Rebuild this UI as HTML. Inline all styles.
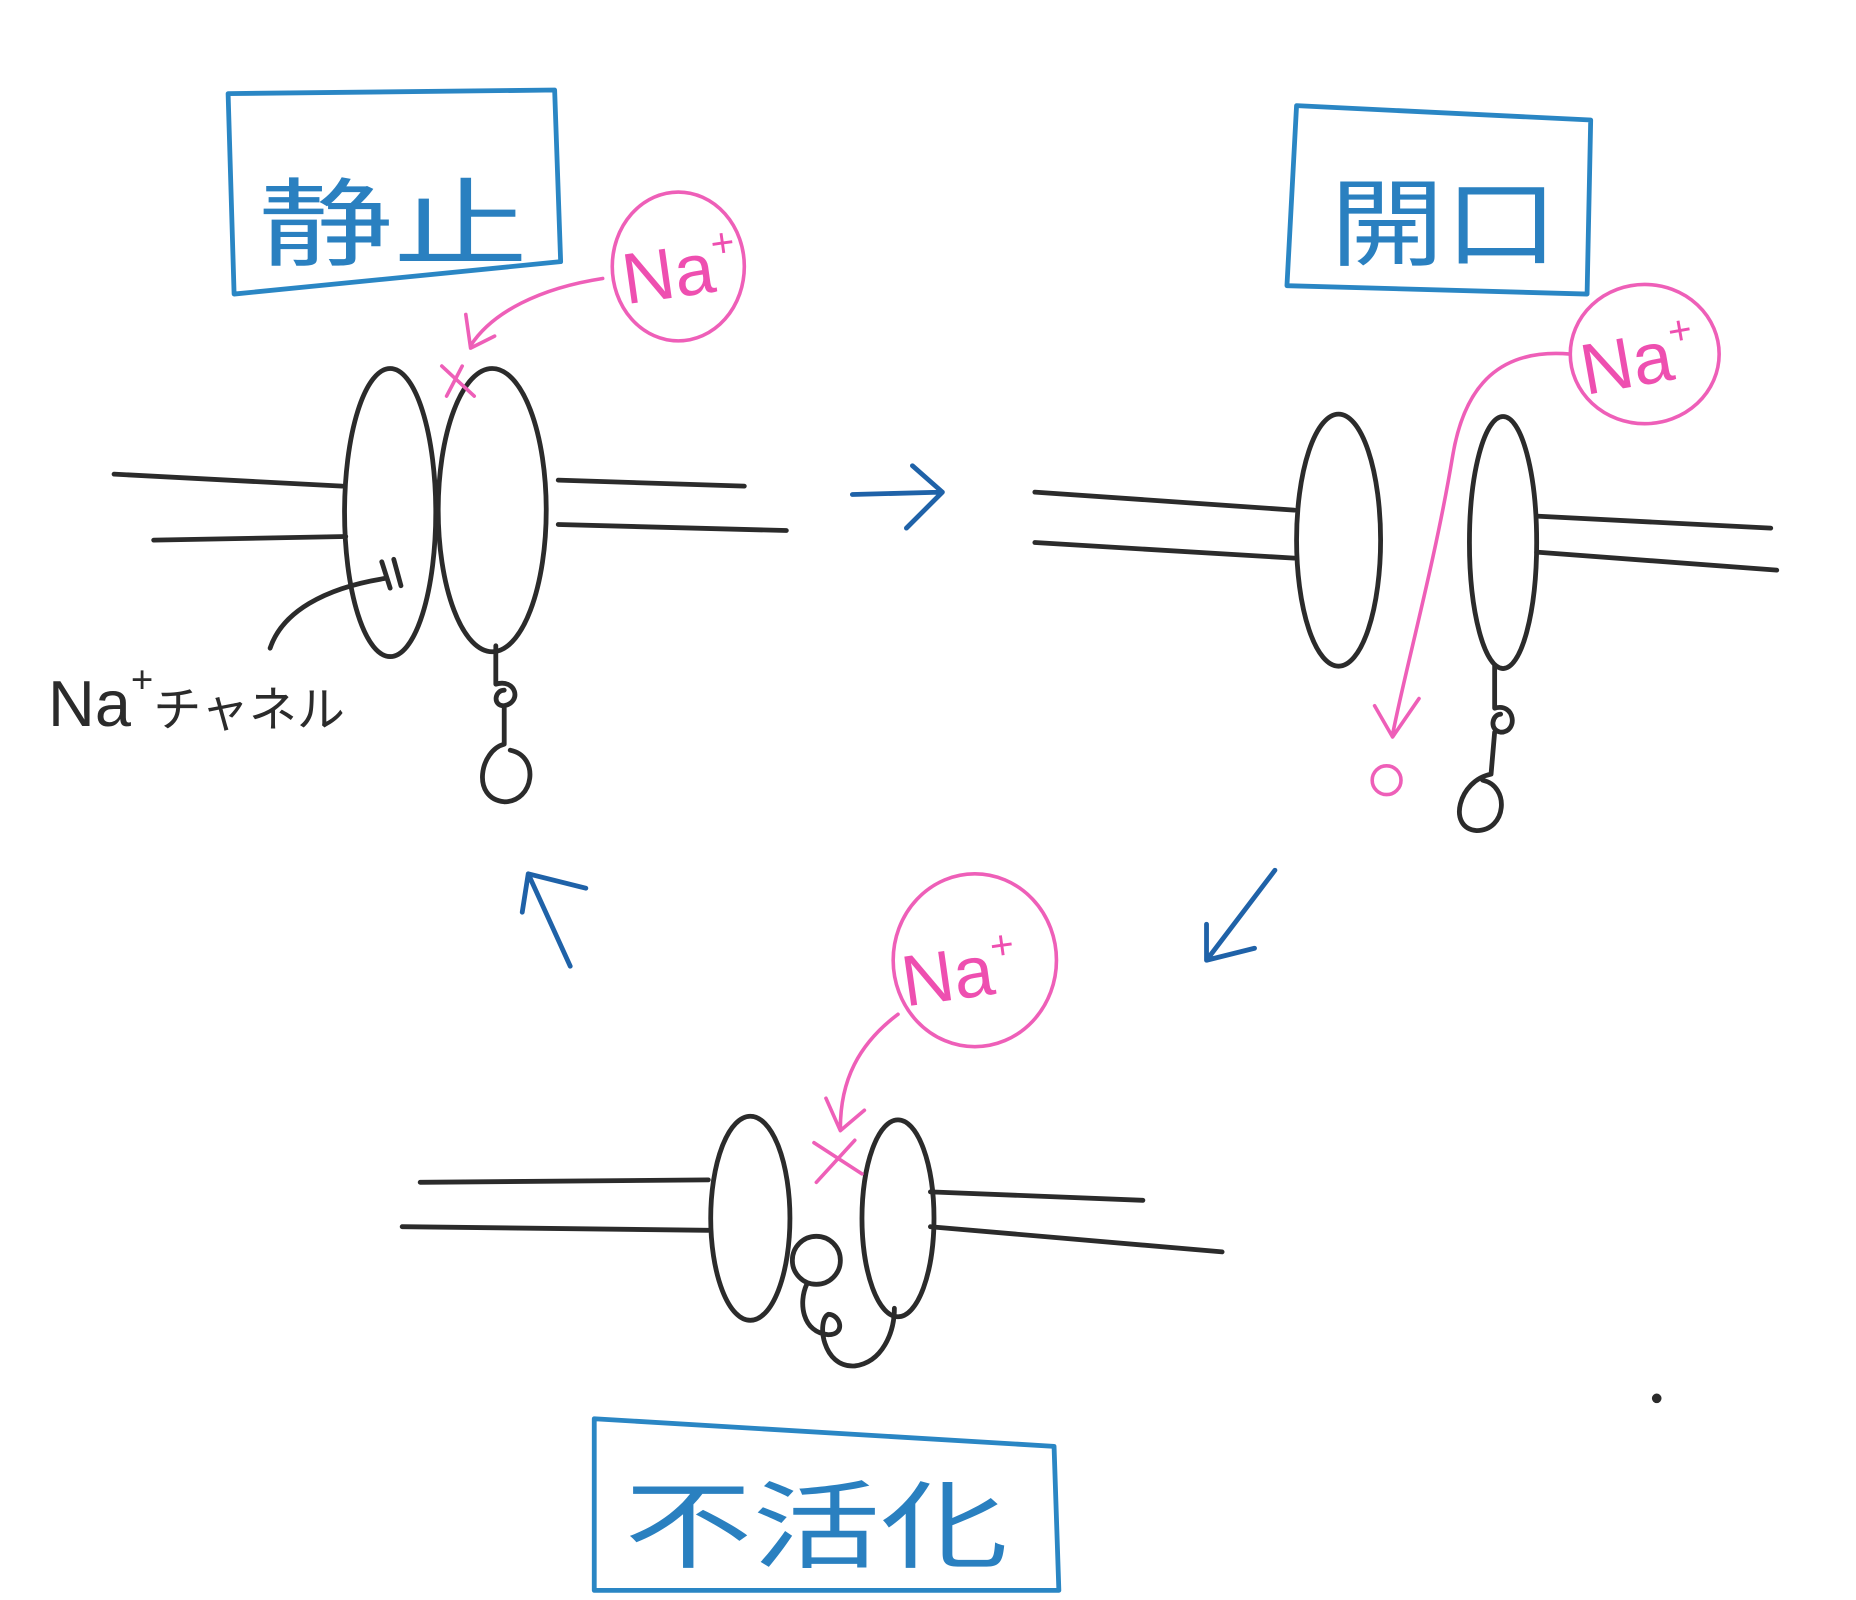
<!DOCTYPE html>
<html><head><meta charset="utf-8"><style>
html,body{margin:0;padding:0;background:#fff;}
svg{display:block}
text{font-family:"Liberation Sans","Noto Sans CJK JP",sans-serif;}
</style></head><body>
<svg width="1856" height="1600" viewBox="0 0 1546 1333" preserveAspectRatio="none" xmlns="http://www.w3.org/2000/svg">
<g fill="none" stroke-linecap="round" stroke-linejoin="round">
<!-- boxes -->
<g stroke="#2a86c4" stroke-width="4">
<path d="M190 78 L462 75 L467 218 L195 245 Z"/>
<path d="M1080 88 L1325 100 L1322 245 L1072 238 Z"/>
<path d="M495 1182 L878 1205 L882 1325 L495 1325 Z"/>
</g>
<!-- black channel 1 -->
<g stroke="#2b2b2b" stroke-width="4">
<path d="M95 395 L285 405"/><path d="M128 450 L288 447"/>
<path d="M465 400 L620 405"/><path d="M465 437 L655 442"/>
<ellipse cx="325" cy="427" rx="38" ry="120"/>
<ellipse cx="410" cy="425" rx="45" ry="118"/>
<path d="M413 538 L413 570 C430 565 435 585 420 588 C410 588 412 575 420 575"/>
<path d="M420 590 L420 620 C400 625 392 665 420 668 C445 668 450 630 425 625"/>
<path d="M225 540 C235 510 270 490 320 482"/><path d="M318 468 L325 490 M328 466 L334 488"/>
<!-- channel 2 -->
<path d="M862 410 L1078 425"/><path d="M862 452 L1078 465"/>
<ellipse cx="1115" cy="450" rx="35" ry="105"/>
<ellipse cx="1252" cy="452" rx="28" ry="105"/>
<path d="M1280 430 L1475 440"/><path d="M1280 460 L1480 475"/>
<path d="M1245 555 L1245 590 C1262 585 1265 610 1250 610 C1240 608 1243 595 1250 595 M1245 610 L1242 645 C1215 650 1205 690 1230 692 C1255 692 1258 655 1235 650"/>
<!-- channel 3 -->
<path d="M350 985 L590 983"/><path d="M335 1022 L590 1025"/>
<path d="M775 993 L952 1000"/><path d="M775 1022 L1018 1043"/>
<ellipse cx="625" cy="1015" rx="33" ry="85"/>
<ellipse cx="748" cy="1015" rx="30" ry="82"/>
<circle cx="680" cy="1050" r="20"/>
<path d="M672 1070 C665 1085 668 1110 690 1112 C705 1112 700 1095 690 1095 C680 1100 685 1140 712 1138 C735 1135 745 1110 745 1090"/>
<circle cx="1380" cy="1165" r="2" fill="#444"/>
</g>
<!-- blue arrows -->
<g stroke="#1f62a8" stroke-width="4">
<path d="M710 412 L785 410 M760 388 L785 410 L755 440"/>
<path d="M1062 725 L1005 800 M1005 770 L1005 800 L1045 790"/>
<path d="M475 805 L440 728 M435 760 L440 728 L488 740"/>
</g>
<!-- pink -->
<g stroke="#ee5fb8" stroke-width="3">
<ellipse cx="565" cy="222" rx="55" ry="62"/>
<path d="M502 232 C450 240 410 260 392 288 M388 262 L392 290 L412 280"/>
<path d="M368 305 L395 330 M385 305 L372 330"/>
<ellipse cx="1370" cy="295" rx="62" ry="58"/>
<path d="M1308 295 C1250 290 1220 320 1210 380 C1195 470 1170 560 1160 612 M1145 588 L1160 614 L1182 582"/>
<circle cx="1155" cy="650" r="12"/>
<ellipse cx="812" cy="800" rx="68" ry="72"/>
<path d="M748 845 C715 870 700 900 700 940 M688 915 L700 942 L720 925"/>
<path d="M678 952 L718 978 M712 950 L680 985"/>
</g>
</g>
<g fill="#2a80c0" font-size="80">
<text x="215" y="215" textLength="225" lengthAdjust="spacingAndGlyphs">静止</text>
<text x="1108" y="215" textLength="190" lengthAdjust="spacingAndGlyphs">開口</text>
<text x="520" y="1300" textLength="320" lengthAdjust="spacingAndGlyphs">不活化</text>
</g>
<g fill="#ee4fb0" font-size="60">
<text x="520" y="248" transform="rotate(-8 560 240)">Na<tspan font-size="34" dy="-28">+</tspan></text>
<text x="1318" y="322" transform="rotate(-10 1360 310)">Na<tspan font-size="34" dy="-28">+</tspan></text>
<text x="752" y="832" transform="rotate(-8 800 820)">Na<tspan font-size="34" dy="-28">+</tspan></text>
</g>
<text x="40" y="605" font-size="54" fill="#2b2b2b">Na<tspan font-size="32" dy="-28">+</tspan><tspan dy="28" font-size="40">チャネル</tspan></text>
</svg>
</body></html>
